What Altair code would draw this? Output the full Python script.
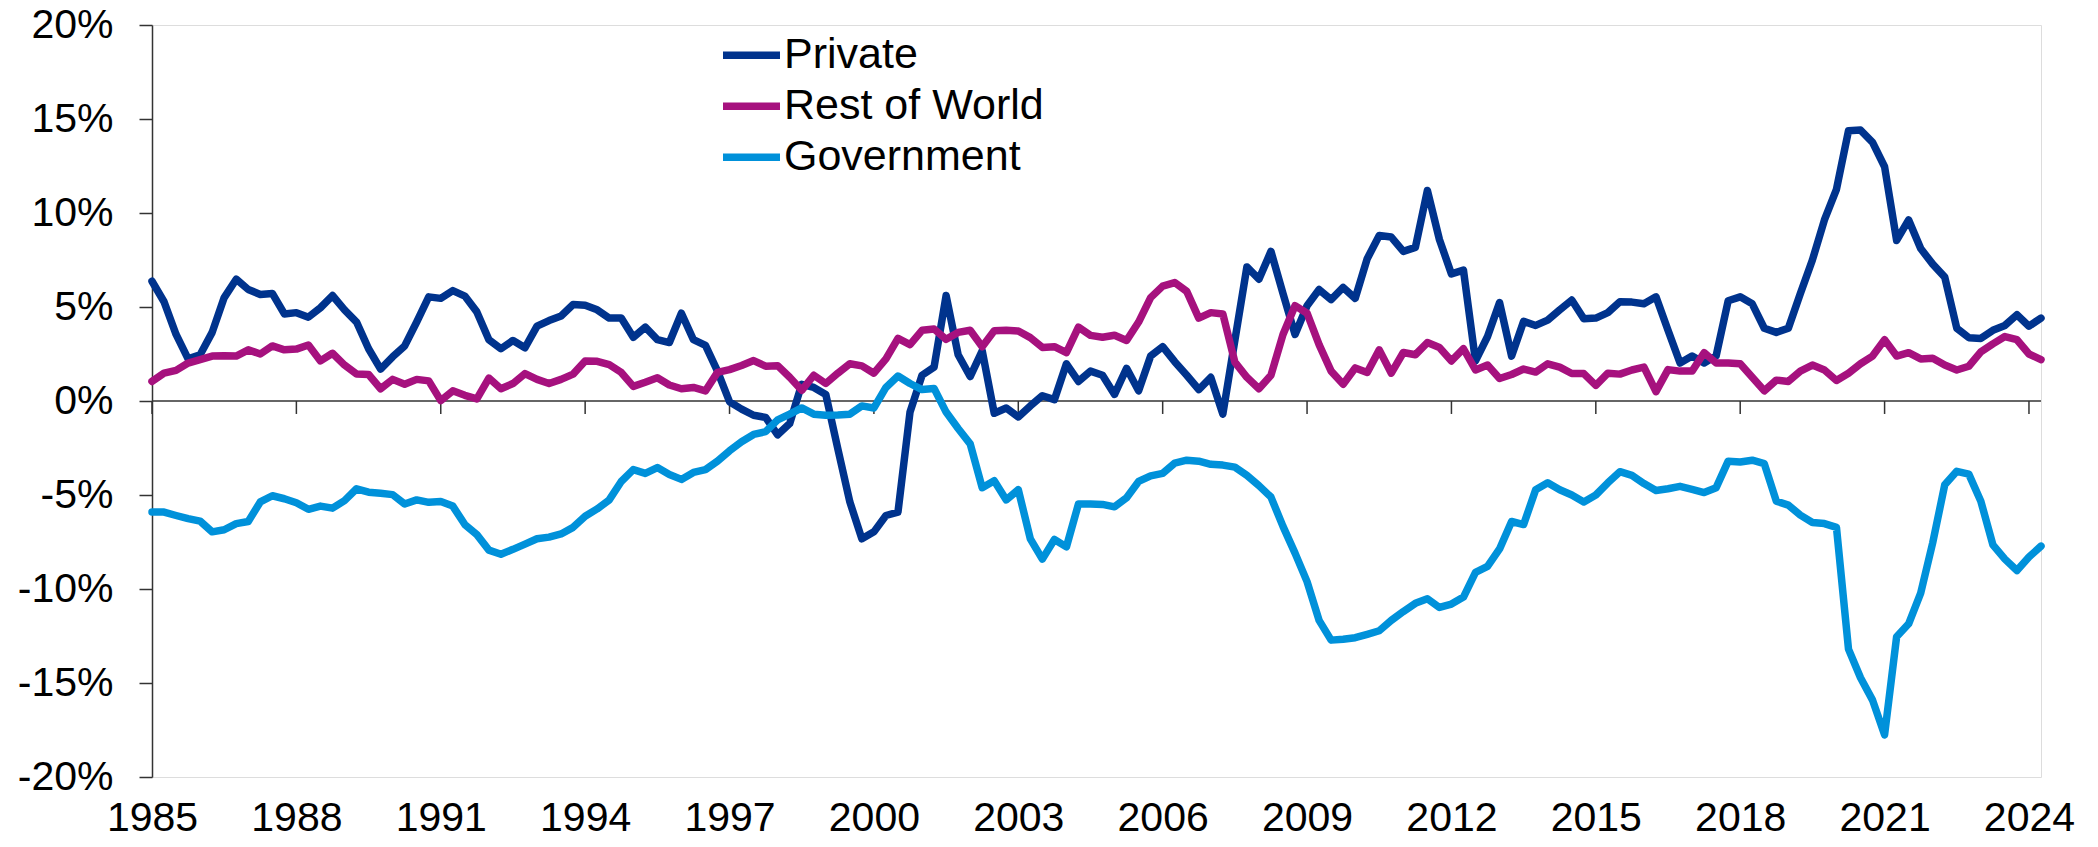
import altair as alt
import pandas as pd

series_names = ["Private", "Rest of World", "Government"]
series_colors = ["#00338D", "#A6117E", "#0091DA"]

private = [6.37, 5.28, 3.54, 2.24, 2.46, 3.65, 5.5, 6.48, 5.93, 5.67,
           5.72, 4.63, 4.70, 4.46, 4.96, 5.61, 4.85, 4.2, 2.78, 1.70,
           2.35, 2.93, 4.2, 5.54, 5.46, 5.87, 5.58, 4.74, 3.26, 2.78,
           3.22, 2.83, 3.98, 4.28, 4.52, 5.13, 5.09, 4.85, 4.41, 4.41,
           3.39, 3.93, 3.26, 3.11, 4.67, 3.26, 2.96, 1.59, -0.04, -0.43,
           -0.76, -0.87, -1.8, -1.2, 0.89, 0.72, 0.35, -2.54, -5.37, -7.33,
           -6.96, -6.09, -5.91, -0.59, 1.37, 1.8, 5.61, 2.46, 1.3, 2.67,
           -0.65, -0.37, -0.85, -0.26, 0.28, 0.07, 1.98, 1.04, 1.59, 1.37,
           0.35, 1.74, 0.54, 2.39, 2.89, 2.09, 1.37, 0.61, 1.26, -0.7,
           3.22, 7.13, 6.48, 7.96, 5.72, 3.54, 5.07, 5.93, 5.39, 6.04,
           5.46, 7.57, 8.8, 8.72, 7.96, 8.17, 11.2, 8.59, 6.76, 6.96,
           2.13, 3.43, 5.24, 2.39, 4.24, 4.02, 4.30, 4.85, 5.37, 4.37,
           4.41, 4.70, 5.28, 5.26, 5.17, 5.54, 3.76, 2.02, 2.39, 2.02,
           2.4, 5.33, 5.54, 5.17, 3.87, 3.65, 3.87, 5.72, 7.5, 9.63,
           11.26, 14.37, 14.41, 13.76, 12.46, 8.54, 9.63, 8.11, 7.28, 6.59,
           3.87, 3.37, 3.33, 3.76, 4.02, 4.59, 3.98, 4.41]

rest_of_world = [1.04, 1.48, 1.63, 2.02, 2.2, 2.39, 2.41, 2.39, 2.72, 2.5,
                 2.93, 2.72, 2.76, 2.98, 2.13, 2.54, 1.91, 1.43, 1.41, 0.65,
                 1.15, 0.89, 1.15, 1.07, 0.02, 0.54, 0.3, 0.11, 1.22, 0.65,
                 0.93, 1.46, 1.15, 0.93, 1.15, 1.43, 2.13, 2.11, 1.93, 1.52,
                 0.78, 1.0, 1.24, 0.85, 0.65, 0.72, 0.54, 1.52, 1.67, 1.89,
                 2.15, 1.85, 1.88, 1.26, 0.57, 1.37, 0.93, 1.48, 1.98, 1.87,
                 1.48, 2.24, 3.33, 3.0, 3.76, 3.83, 3.28, 3.65, 3.76, 2.89,
                 3.74, 3.76, 3.72, 3.37, 2.85, 2.89, 2.57, 3.93, 3.49, 3.39,
                 3.5, 3.22, 4.2, 5.5, 6.11, 6.3, 5.83, 4.41, 4.7, 4.63,
                 2.07, 1.26, 0.65, 1.37, 3.54, 5.07, 4.67, 3.0, 1.59, 0.89,
                 1.76, 1.52, 2.72, 1.48, 2.58, 2.46, 3.11, 2.85, 2.13, 2.78,
                 1.65, 1.91, 1.2, 1.41, 1.7, 1.54, 1.98, 1.8, 1.46, 1.46,
                 0.83, 1.48, 1.43, 1.65, 1.8, 0.5, 1.67, 1.59, 1.59, 2.57,
                 2.02, 2.02, 1.98, 1.26, 0.54, 1.11, 1.04, 1.59, 1.91, 1.65,
                 1.09, 1.48, 1.98, 2.39, 3.26, 2.39, 2.57, 2.24, 2.28, 1.91,
                 1.65, 1.85, 2.61, 3.04, 3.43, 3.26, 2.5, 2.2]

government = [-5.91, -5.91, -6.09, -6.26, -6.39, -6.96, -6.85, -6.52, -6.41, -5.37,
              -5.04, -5.2, -5.41, -5.76, -5.59, -5.7, -5.3, -4.67, -4.85, -4.91,
              -4.98, -5.48, -5.26, -5.39, -5.35, -5.59, -6.57, -7.11, -7.93, -8.15,
              -7.89, -7.61, -7.33, -7.24, -7.07, -6.72, -6.13, -5.74, -5.26, -4.28,
              -3.65, -3.85, -3.54, -3.91, -4.17, -3.8, -3.65, -3.2, -2.65, -2.17,
              -1.78, -1.63, -1.0, -0.7, -0.37, -0.7, -0.76, -0.74, -0.7, -0.26,
              -0.37, 0.72, 1.33, 0.93, 0.61, 0.67, -0.59, -1.46, -2.28, -4.61,
              -4.24, -5.26, -4.72, -7.33, -8.41, -7.37, -7.76, -5.48, -5.48, -5.5,
              -5.63, -5.15, -4.28, -3.98, -3.85, -3.3, -3.15, -3.2, -3.37, -3.41,
              -3.52, -3.96, -4.5, -5.11, -6.67, -8.09, -9.61, -11.67, -12.72, -12.67,
              -12.59, -12.41, -12.22, -11.67, -11.2, -10.76, -10.52, -10.98, -10.8, -10.43,
              -9.11, -8.8, -7.87, -6.41, -6.57, -4.72, -4.35, -4.72, -5.0, -5.37,
              -5.0, -4.35, -3.76, -3.96, -4.39, -4.76, -4.67, -4.54, -4.7, -4.87,
              -4.61, -3.2, -3.24, -3.15, -3.33, -5.33, -5.54, -6.07, -6.46, -6.52,
              -6.72, -13.2, -14.72, -15.91, -17.76, -12.54, -11.85, -10.22, -7.54, -4.46,
              -3.74, -3.89, -5.33, -7.65, -8.41, -9.02, -8.3, -7.72]

x_tick_years = [1985, 1988, 1991, 1994, 1997, 2000, 2003, 2006, 2009, 2012, 2015, 2018, 2021, 2024]
y_tick_values = [-20, -15, -10, -5, 0, 5, 10, 15, 20]

# quarterly time index starting 1985 Q1
quarters = [1985 + 0.25 * i for i in range(len(private))]

rows = []
for name, vals in zip(series_names, [private, rest_of_world, government]):
    for q, v in zip(quarters, vals):
        rows.append({"t": q, "series": name, "value": v})
df = pd.DataFrame(rows)

tick_df = pd.DataFrame({"t": x_tick_years, "y0": [0] * len(x_tick_years),
                        "y1": [-0.69] * len(x_tick_years)})
zero_df = pd.DataFrame({"y0": [0]})

FONT = "Liberation Sans"
AX = "#333333"

x_scale = alt.Scale(domain=[1985, 2024.25], nice=False, zero=False)
y_scale = alt.Scale(domain=[-20, 20], nice=False)

x_axis = alt.Axis(values=x_tick_years, format="d", domain=False, ticks=False, grid=False,
                  labelFontSize=41, labelPadding=21, title=None, labelFlush=False,
                  labelOverlap=False, labelColor="black", labelFont=FONT)
y_axis = alt.Axis(values=y_tick_values, labelExpr="datum.value + '%'", grid=False,
                  tickSize=13, labelPadding=26, labelFontSize=41, title=None,
                  labelOverlap=False, labelColor="black", labelFont=FONT,
                  domainColor=AX, tickColor=AX, domainWidth=1.5, tickWidth=1.5)

zero_line = alt.Chart(zero_df).mark_rule(color=AX, strokeWidth=1.5).encode(
    y=alt.Y("y0:Q", scale=y_scale, axis=y_axis)
)

tick_marks = alt.Chart(tick_df).mark_rule(color=AX, strokeWidth=1.5).encode(
    x=alt.X("t:Q", scale=x_scale, axis=x_axis),
    y=alt.Y("y0:Q", scale=y_scale, axis=y_axis),
    y2="y1:Q",
)

lines = alt.Chart(df).mark_line(strokeJoin="round", strokeCap="round", strokeWidth=7.5).encode(
    x=alt.X("t:Q", scale=x_scale, axis=x_axis),
    y=alt.Y("value:Q", scale=y_scale, axis=y_axis),
    color=alt.Color("series:N", sort=series_names,
                    scale=alt.Scale(domain=series_names, range=series_colors),
                    legend=alt.Legend(title=None, orient="none", legendX=567, legendY=5,
                                      symbolType="stroke", symbolSize=3249,
                                      symbolStrokeWidth=7.5, labelFontSize=43,
                                      labelFont=FONT, labelColor="black",
                                      labelOffset=0, rowPadding=0, clipHeight=50.5,
                                      padding=0, labelLimit=1000)),
    order=alt.Order("t:Q"),
)

chart = alt.layer(zero_line, tick_marks, lines).properties(
    width=1889, height=752,
    padding={"left": 144, "top": 17, "right": 49, "bottom": 62},
    autosize="none",
).configure_view(stroke=None).configure(background="white")

chart.save("out.html", embed_options={"renderer": "svg", "actions": False})
